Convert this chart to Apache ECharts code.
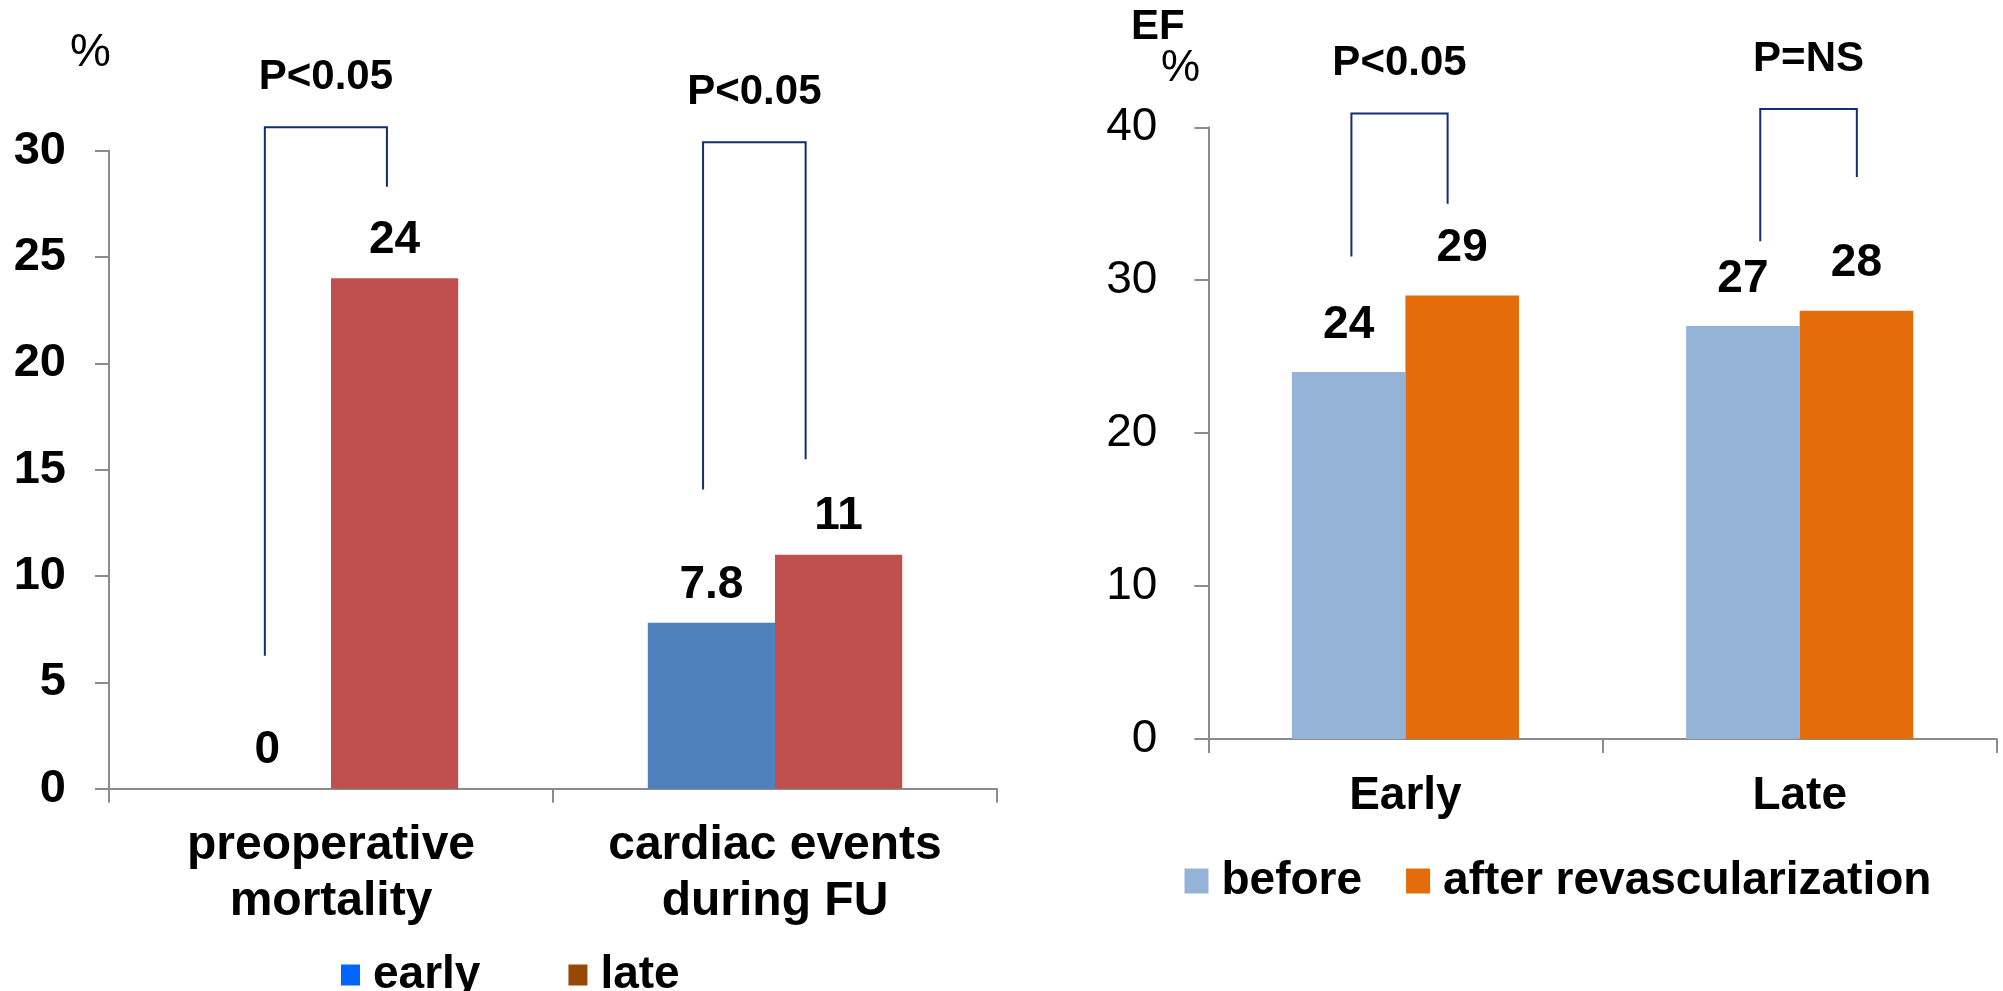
<!DOCTYPE html>
<html>
<head>
<meta charset="utf-8">
<script src="https://cdn.jsdelivr.net/npm/echarts@6/dist/echarts.min.js"></script>
<style>
html,body{margin:0;padding:0;background:#fff;}
#chart{width:2003px;height:991px;}
</style>
</head>
<body>
<div id="chart"></div>
<script>
// ---- Left chart data ----
const leftCategories = ['preoperative\nmortality', 'cardiac events\nduring FU'];
const leftEarly = [0, 7.8];
const leftLate = [24, 11];
const leftTicks = [0, 5, 10, 15, 20, 25, 30];
const leftPLabels = ['P<0.05', 'P<0.05'];
// bracket: [categoryIndex, topValue, leftBottomValue, rightBottomValue]
const leftBrackets = [[0, 31.1, 6.25, 28.3], [1, 30.4, 14.07, 15.49]];

// ---- Right chart data ----
const rightCategories = ['Early', 'Late'];
const rightBefore = [24, 27];
const rightAfter = [29, 28];
const rightTicks = [0, 10, 20, 30, 40];
const rightPLabels = ['P<0.05', 'P=NS'];
const rightBrackets = [[0, 40.9, 31.55, 35.0], [1, 41.2, 32.55, 36.75]];

// bracket horizontal offsets (fraction of band width from category centre) – layout only
const leftBracketOffsets = [[-0.149, 0.126], [-0.162, 0.069]];
const rightBracketOffsets = [[-0.137, 0.107], [-0.100, 0.145]];

const FONT = '"Liberation Sans", Arial, sans-serif';
const AXIS_COLOR = '#8c8c8c';

function bracketRenderer(offsets, labels) {
  return function (params, api) {
    const idx = api.value(0);
    const top = api.coord([idx, api.value(1)]);
    const lb = api.coord([idx, api.value(2)]);
    const rb = api.coord([idx, api.value(3)]);
    const bw = api.size([1, 0])[0];
    const off = offsets[params.dataIndex];
    const xl = top[0] + off[0] * bw;
    const xr = top[0] + off[1] * bw;
    const yt = top[1];
    return {
      type: 'group',
      children: [
        {
          type: 'polyline',
          shape: { points: [[xl, lb[1]], [xl, yt], [xr, yt], [xr, rb[1]]] },
          style: { stroke: '#112E72', lineWidth: 2, fill: null }
        },
        {
          type: 'text',
          style: {
            text: labels[params.dataIndex],
            x: (xl + xr) / 2,
            y: yt - 50,
            align: 'center',
            verticalAlign: 'middle',
            fontSize: 42,
            fontWeight: 'bold',
            fontFamily: FONT,
            fill: '#000'
          }
        }
      ]
    };
  };
}

const chart = echarts.init(document.getElementById('chart'), null, { renderer: 'canvas' });

const valueLabel = (dist) => ({
  show: true,
  position: 'top',
  distance: dist,
  color: '#000',
  fontSize: 46,
  fontWeight: 'bold',
  fontFamily: FONT,
  lineHeight: 46
});

const option = {
  backgroundColor: '#fff',
  animation: false,
  textStyle: { fontFamily: FONT },
  grid: [
    { left: 109, right: 1006, top: 150.7, bottom: 202.3, containLabel: false, outerBoundsMode: 'none' },
    { left: 1208.3, right: 6.2, top: 127.3, bottom: 252, containLabel: false, outerBoundsMode: 'none' }
  ],
  legend: [
    {
      left: 336, top: 947,
      itemWidth: 19, itemHeight: 21, itemGap: 88,
      icon: 'rect',
      textStyle: { fontSize: 46, fontWeight: 'bold', color: '#000', fontFamily: FONT, lineHeight: 46, padding: [0, 0, 0, 8] },
      data: [
        { name: 'early', itemStyle: { color: '#0066FF' } },
        { name: 'late', itemStyle: { color: '#974706' } }
      ]
    },
    {
      left: 1179.5, top: 853,
      itemWidth: 24, itemHeight: 25, itemGap: 44,
      icon: 'rect',
      textStyle: { fontSize: 46, fontWeight: 'bold', color: '#000', fontFamily: FONT, lineHeight: 46, padding: [0, 0, 0, 8] },
      data: [
        { name: 'before', itemStyle: { color: '#95B3D7' } },
        { name: 'after revascularization', itemStyle: { color: '#E46C0A' } }
      ]
    }
  ],
  xAxis: [
    {
      type: 'category', gridIndex: 0, data: leftCategories,
      axisLine: { show: true, lineStyle: { color: AXIS_COLOR, width: 2 } },
      axisTick: { show: true, length: 14, lineStyle: { color: AXIS_COLOR, width: 2 } },
      axisLabel: { margin: 29, color: '#000', fontSize: 48, fontWeight: 'bold', fontFamily: FONT, lineHeight: 56 },
      splitLine: { show: false }
    },
    {
      type: 'category', gridIndex: 1, data: rightCategories,
      axisLine: { show: true, lineStyle: { color: AXIS_COLOR, width: 2 } },
      axisTick: { show: true, length: 14, lineStyle: { color: AXIS_COLOR, width: 2 } },
      axisLabel: { margin: 29, color: '#000', fontSize: 46, fontWeight: 'bold', fontFamily: FONT, lineHeight: 56 },
      splitLine: { show: false }
    }
  ],
  yAxis: [
    {
      type: 'value', gridIndex: 0, min: leftTicks[0], max: leftTicks[leftTicks.length - 1], interval: leftTicks[1] - leftTicks[0],
      axisLine: { show: true, lineStyle: { color: AXIS_COLOR, width: 2 } },
      axisTick: { show: true, length: 14, lineStyle: { color: AXIS_COLOR, width: 2 } },
      axisLabel: { margin: 43, color: '#000', fontSize: 47, fontWeight: 'bold', fontFamily: FONT },
      splitLine: { show: false }
    },
    {
      type: 'value', gridIndex: 1, min: rightTicks[0], max: rightTicks[rightTicks.length - 1], interval: rightTicks[1] - rightTicks[0],
      axisLine: { show: true, lineStyle: { color: AXIS_COLOR, width: 2 } },
      axisTick: { show: true, length: 14, lineStyle: { color: AXIS_COLOR, width: 2 } },
      axisLabel: { margin: 51, color: '#000', fontSize: 46, fontWeight: 'normal', fontFamily: FONT },
      splitLine: { show: false }
    }
  ],
  series: [
    {
      name: 'early', type: 'bar', xAxisIndex: 0, yAxisIndex: 0, data: leftEarly,
      itemStyle: { color: '#4F81BD' }, barGap: '0%', barCategoryGap: '42.7%',
      label: valueLabel(15)
    },
    {
      name: 'late', type: 'bar', xAxisIndex: 0, yAxisIndex: 0, data: leftLate,
      itemStyle: { color: '#C0504D' }, barGap: '0%', barCategoryGap: '42.7%',
      label: valueLabel(15)
    },
    {
      name: 'before', type: 'bar', xAxisIndex: 1, yAxisIndex: 1, data: rightBefore,
      itemStyle: { color: '#95B3D7' }, barGap: '0%', barCategoryGap: '42.4%',
      label: valueLabel(24)
    },
    {
      name: 'after revascularization', type: 'bar', xAxisIndex: 1, yAxisIndex: 1, data: rightAfter,
      itemStyle: { color: '#E46C0A' }, barGap: '0%', barCategoryGap: '42.4%',
      label: valueLabel(24)
    },
    {
      name: 'leftBrackets', type: 'custom', xAxisIndex: 0, yAxisIndex: 0, clip: false, silent: true,
      data: leftBrackets, encode: { x: 0, y: 1 },
      renderItem: bracketRenderer(leftBracketOffsets, leftPLabels), z: 5
    },
    {
      name: 'rightBrackets', type: 'custom', xAxisIndex: 1, yAxisIndex: 1, clip: false, silent: true,
      data: rightBrackets, encode: { x: 0, y: 1 },
      renderItem: bracketRenderer(rightBracketOffsets, rightPLabels), z: 5
    }
  ],
  graphic: [
    { type: 'text', left: 70, top: 30, style: { text: '%', fontSize: 46, fontWeight: 'normal', fontFamily: FONT, fill: '#000' } },
    { type: 'text', left: 1131, top: 6, style: { text: 'EF', fontSize: 42, fontWeight: 'bold', fontFamily: FONT, fill: '#000' } },
    { type: 'text', left: 1161, top: 47, style: { text: '%', fontSize: 44, fontWeight: 'normal', fontFamily: FONT, fill: '#000' } }
  ]
};

chart.setOption(option);
</script>
</body>
</html>
